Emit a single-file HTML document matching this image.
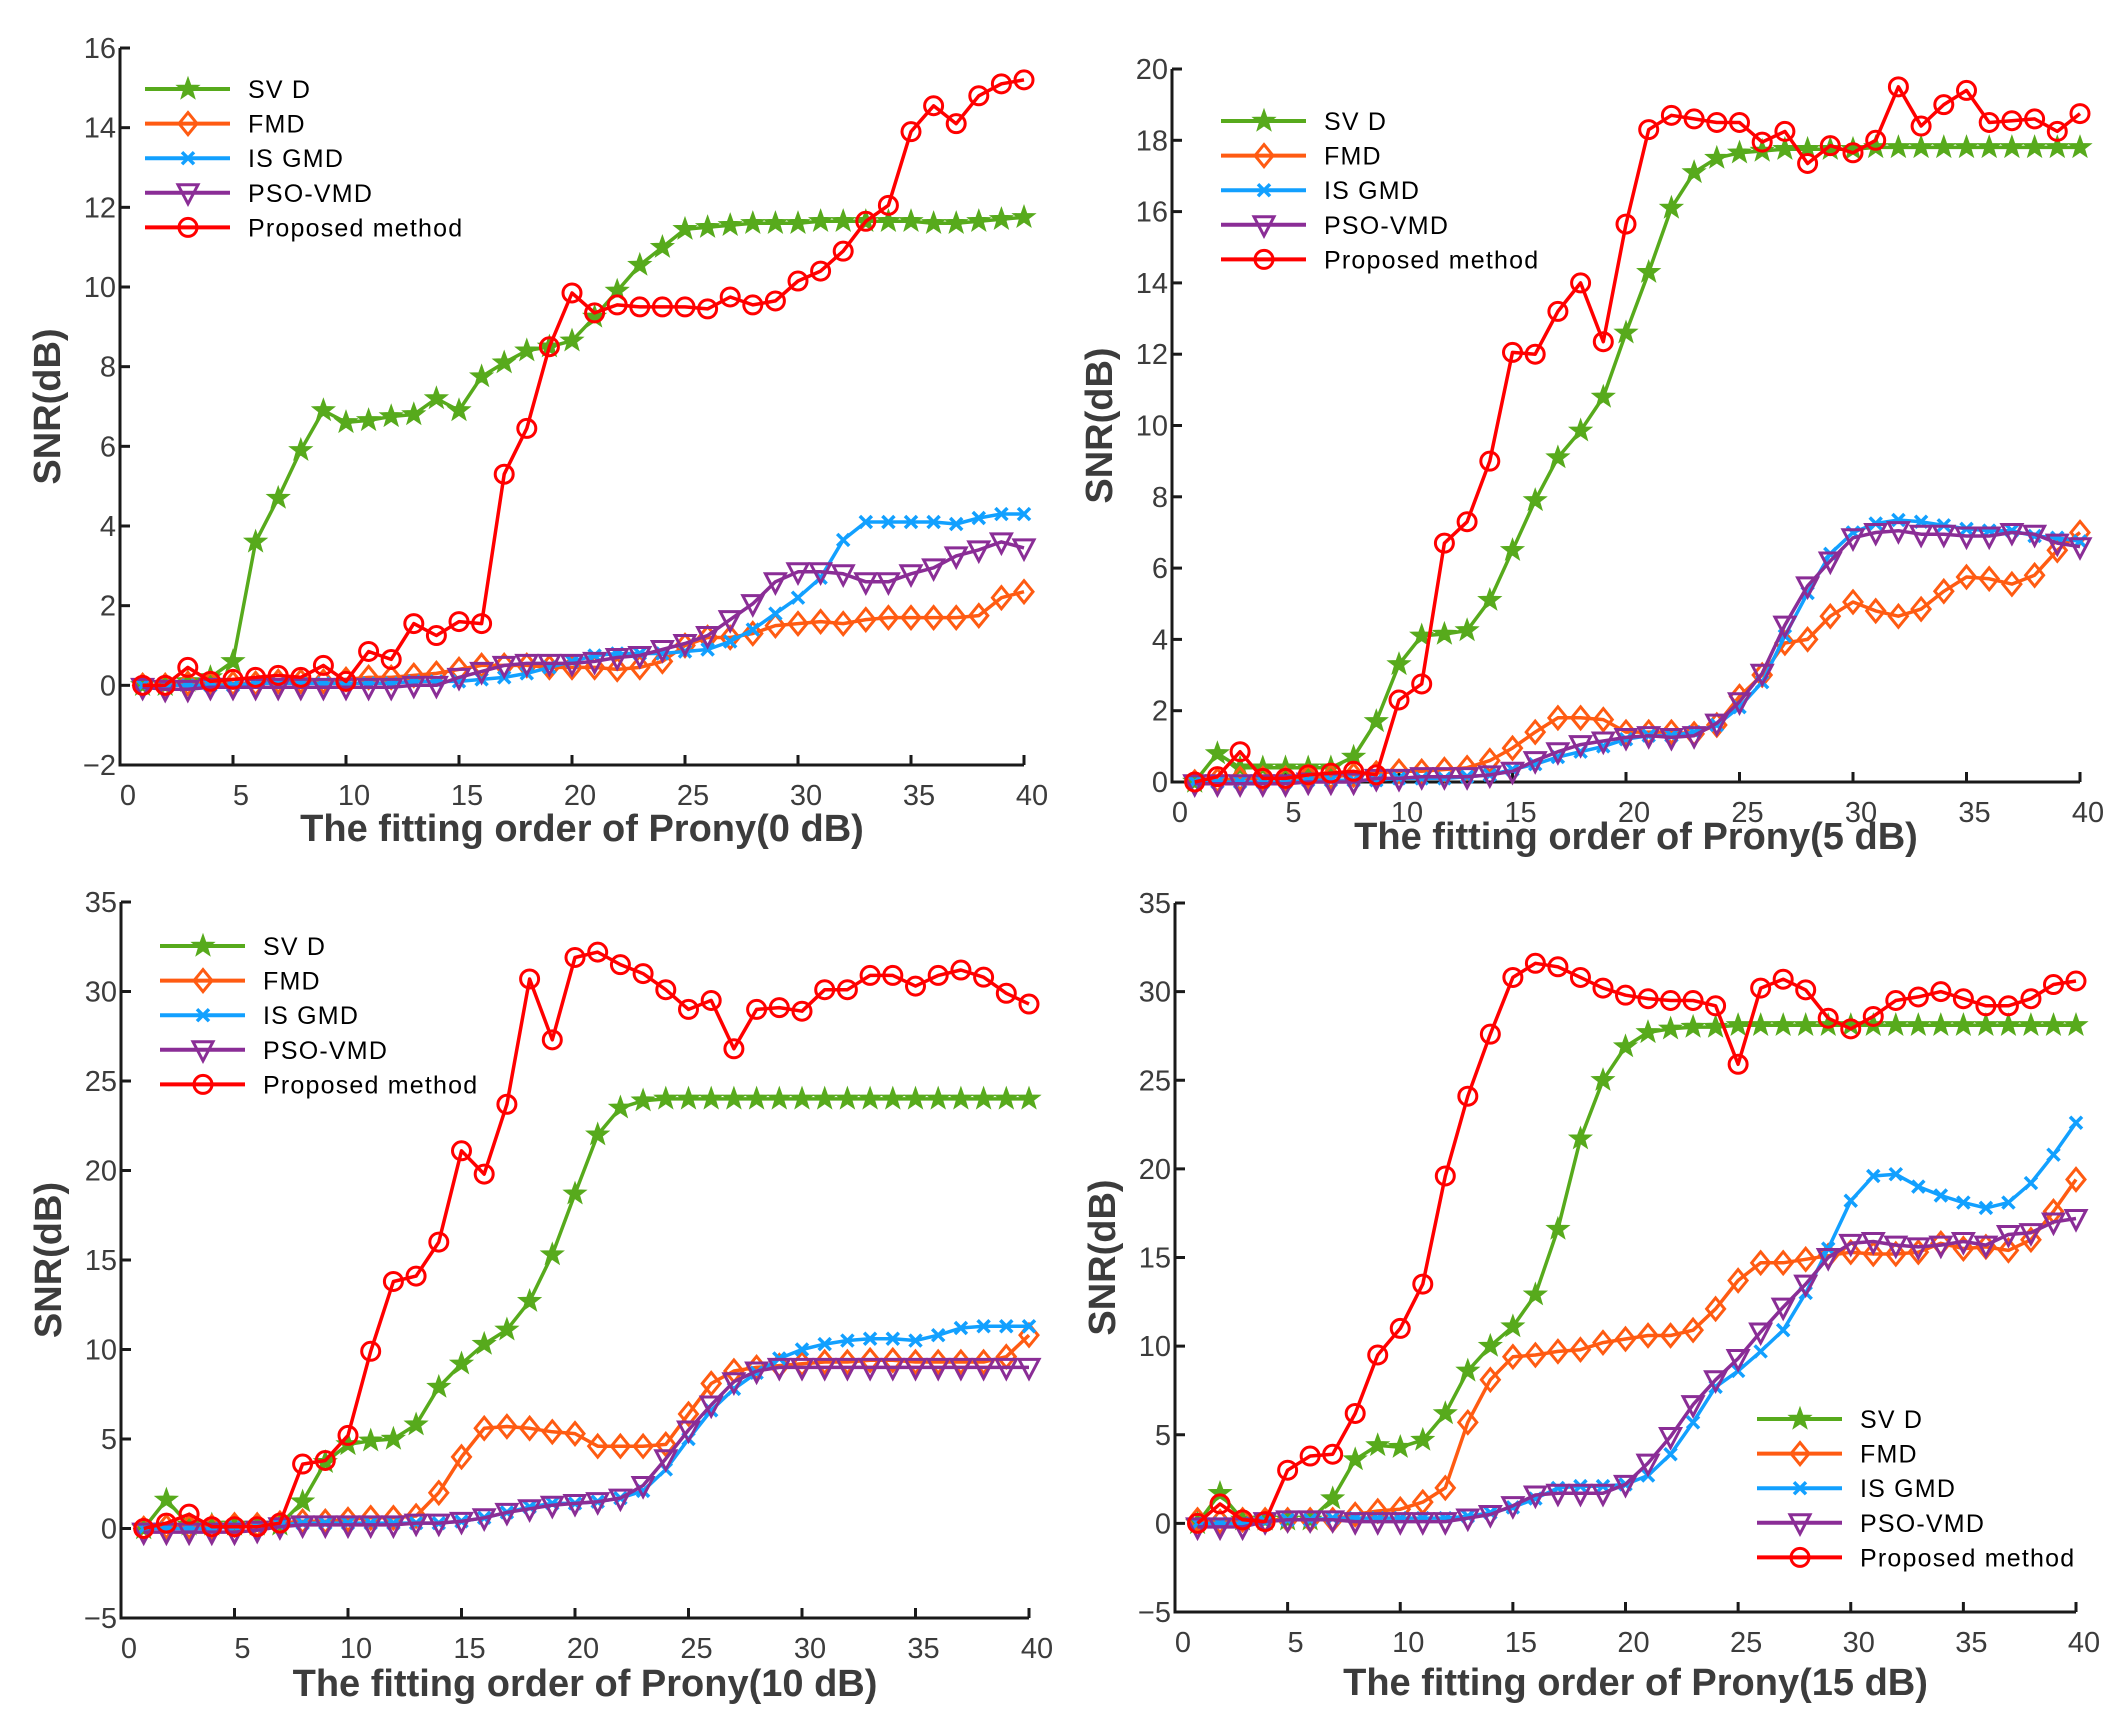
<!DOCTYPE html>
<html><head><meta charset="utf-8">
<style>
html,body{margin:0;padding:0;background:#fff;}
svg{display:block;}
text{font-family:"Liberation Sans",sans-serif;}
</style></head>
<body>
<svg id="fig" width="2121" height="1729" viewBox="0 0 2121 1729" xmlns="http://www.w3.org/2000/svg"></svg>
<script>
const xs = Array.from({length:40},(_, i)=>i+1);
const seriesNames = ["SVD","FMD","ISGMD","PSO-VMD","Proposed method"];
const legendLabels = ["SV D","FMD","IS GMD","PSO-VMD"," Proposed method"];
const xTicks = [0,5,10,15,20,25,30,35,40];

// Panel 1 (0 dB)
const p1_svd = [0,0,0.1,0.2,0.6,3.6,4.7,5.9,6.9,6.6,6.65,6.75,6.8,7.2,6.9,7.75,8.1,8.4,8.5,8.65,9.25,9.9,10.55,11.0,11.45,11.5,11.55,11.6,11.6,11.6,11.65,11.65,11.65,11.65,11.65,11.6,11.6,11.65,11.7,11.75];
const p1_fmd = [0,0,0.05,0.05,0.05,0.05,0.1,0.1,0.1,0.15,0.2,0.2,0.25,0.3,0.4,0.5,0.5,0.5,0.45,0.45,0.45,0.4,0.45,0.6,1.0,1.2,1.2,1.3,1.5,1.55,1.6,1.55,1.65,1.7,1.7,1.7,1.7,1.75,2.2,2.35];
const p1_isg = [0,0,0,0,0,0.05,0.05,0.05,0.05,0.05,0.05,0.05,0.1,0.1,0.1,0.15,0.2,0.3,0.45,0.6,0.75,0.8,0.8,0.8,0.85,0.9,1.1,1.4,1.8,2.2,2.7,3.65,4.1,4.1,4.1,4.1,4.05,4.2,4.3,4.3];
const p1_pso = [-0.05,-0.1,-0.1,-0.05,-0.05,-0.05,-0.05,-0.05,-0.05,-0.05,-0.05,-0.05,0,0,0.2,0.35,0.5,0.55,0.55,0.55,0.6,0.7,0.75,0.9,1.05,1.25,1.65,2.05,2.6,2.85,2.85,2.8,2.6,2.6,2.8,2.95,3.25,3.4,3.6,3.45];
const p1_prop = [0,0,0.45,0.1,0.15,0.2,0.25,0.2,0.5,0.1,0.85,0.65,1.55,1.25,1.6,1.55,5.3,6.45,8.5,9.85,9.35,9.55,9.5,9.5,9.5,9.45,9.75,9.55,9.65,10.15,10.4,10.9,11.65,12.05,13.9,14.55,14.1,14.8,15.1,15.2];
const p1_yTicks = [-2,0,2,4,6,8,10,12,14,16];

// Panel 2 (5 dB)
const p2_svd = [0,0.8,0.4,0.4,0.4,0.4,0.4,0.7,1.7,3.3,4.1,4.15,4.25,5.1,6.5,7.9,9.1,9.85,10.8,12.6,14.3,16.1,17.1,17.5,17.65,17.7,17.75,17.75,17.75,17.75,17.8,17.8,17.8,17.8,17.8,17.8,17.8,17.8,17.8,17.8];
const p2_fmd = [0,0.05,0.1,0.1,0.1,0.15,0.15,0.2,0.25,0.3,0.3,0.35,0.4,0.6,0.95,1.4,1.8,1.8,1.75,1.4,1.4,1.4,1.35,1.6,2.4,3.0,3.9,4.0,4.65,5.05,4.8,4.65,4.85,5.35,5.75,5.7,5.55,5.8,6.5,7.0];
const p2_isg = [0,0,0,0,0,0.05,0.05,0.05,0.05,0.1,0.1,0.1,0.15,0.2,0.35,0.5,0.7,0.85,1.0,1.2,1.3,1.3,1.4,1.6,2.1,2.8,4.1,5.3,6.4,7.0,7.25,7.35,7.3,7.2,7.1,7.05,7.05,6.9,6.85,6.75];
const p2_pso = [-0.05,-0.05,-0.05,-0.05,-0.05,0,0,0,0.1,0.1,0.15,0.15,0.15,0.2,0.3,0.6,0.85,1.05,1.15,1.25,1.3,1.25,1.3,1.65,2.25,3.05,4.4,5.5,6.2,6.85,7.0,7.05,6.95,6.95,6.9,6.9,7.0,6.95,6.7,6.6];
const p2_prop = [0,0.15,0.85,0.1,0.1,0.2,0.25,0.3,0.2,2.3,2.75,6.7,7.3,9.0,12.05,12.0,13.2,14.0,12.35,15.65,18.3,18.7,18.6,18.5,18.5,17.95,18.25,17.35,17.85,17.65,18.0,19.5,18.4,19.0,19.4,18.5,18.55,18.6,18.25,18.75];
const p2_yTicks = [0,2,4,6,8,10,12,14,16,18,20];

// Panel 3 (10 dB)
const p3_svd = [0,1.6,0.2,0.2,0.2,0.2,0.2,1.5,3.7,4.7,4.9,5.0,5.8,7.9,9.2,10.3,11.1,12.7,15.3,18.7,22.0,23.5,23.9,24,24,24,24,24,24,24,24,24,24,24,24,24,24,24,24,24];
const p3_fmd = [0,0.1,0.1,0.1,0.2,0.2,0.3,0.4,0.4,0.5,0.6,0.6,0.7,2.0,4.0,5.6,5.7,5.6,5.4,5.3,4.6,4.6,4.6,4.7,6.4,8.1,8.8,9.0,9.1,9.2,9.3,9.3,9.4,9.4,9.3,9.3,9.3,9.3,9.6,10.8];
const p3_isg = [0,0,0,0,0.1,0.1,0.2,0.3,0.3,0.3,0.3,0.3,0.3,0.3,0.4,0.6,0.9,1.2,1.4,1.4,1.5,1.7,2.1,3.3,5.0,6.6,7.8,8.7,9.5,10.0,10.3,10.5,10.6,10.6,10.5,10.8,11.2,11.3,11.3,11.3];
const p3_pso = [-0.2,-0.2,-0.2,-0.2,-0.2,-0.1,0.1,0.2,0.2,0.2,0.2,0.2,0.3,0.3,0.4,0.6,0.9,1.1,1.3,1.4,1.5,1.7,2.4,3.9,5.5,6.9,8.2,8.8,9.0,9.0,9.0,9.0,9.0,9.0,9.0,9.0,9.0,9.0,9.0,9.0];
const p3_prop = [0,0.3,0.8,0.1,0.1,0.1,0.3,3.6,3.8,5.2,9.9,13.8,14.1,16.0,21.1,19.8,23.7,30.7,27.3,31.9,32.2,31.5,31.0,30.1,29.0,29.5,26.8,29.0,29.1,28.9,30.1,30.1,30.9,30.9,30.3,30.9,31.2,30.8,29.9,29.3];
const p3_yTicks = [-5,0,5,10,15,20,25,30,35];

// Panel 4 (15 dB)
const p4_svd = [0,1.7,0.2,0.2,0.2,0.2,1.4,3.6,4.4,4.3,4.7,6.2,8.6,10.0,11.1,12.9,16.6,21.7,25.0,26.9,27.7,27.9,28.0,28.0,28.1,28.1,28.1,28.1,28.1,28.1,28.1,28.1,28.1,28.1,28.1,28.1,28.1,28.1,28.1,28.1];
const p4_fmd = [0.2,0.1,0.2,0.2,0.2,0.2,0.2,0.5,0.7,0.8,1.2,2.0,5.7,8.1,9.4,9.5,9.7,9.8,10.2,10.4,10.6,10.6,10.9,12.1,13.7,14.7,14.7,14.9,15.1,15.3,15.2,15.2,15.3,15.8,15.5,15.6,15.4,16.0,17.6,19.4];
const p4_isg = [0,0,0,0.1,0.2,0.2,0.3,0.3,0.3,0.3,0.3,0.3,0.4,0.6,0.9,1.4,2.0,2.1,2.1,2.2,2.7,3.9,5.7,7.7,8.6,9.7,10.9,13.0,15.5,18.2,19.6,19.7,19.0,18.5,18.1,17.8,18.1,19.2,20.8,22.6];
const p4_pso = [-0.2,-0.2,-0.2,0.1,0.2,0.2,0.2,0.1,0.1,0.1,0.1,0.1,0.3,0.5,1.0,1.6,1.7,1.7,1.7,2.2,3.4,4.9,6.7,8.1,9.3,10.8,12.2,13.5,15.0,15.8,15.9,15.7,15.6,15.7,15.9,15.7,16.3,16.4,17.0,17.2];
const p4_prop = [0,1.1,0.2,0.1,3.0,3.8,3.9,6.2,9.5,11.0,13.5,19.6,24.1,27.6,30.8,31.6,31.4,30.8,30.2,29.8,29.6,29.5,29.5,29.2,25.9,30.2,30.7,30.1,28.5,27.9,28.6,29.5,29.7,30.0,29.6,29.2,29.2,29.6,30.4,30.6];
const p4_yTicks = [-5,0,5,10,15,20,25,30,35];

const colors = ["#57aa1c","#ff5b12","#12a0ff","#8a2d96","#ff0000"];
const markers = ["star","diamond","x","tri","circle"];
const NS = "http://www.w3.org/2000/svg";
const svg = document.getElementById("fig");
function mk(tag, attrs, parent){
  const e = document.createElementNS(NS, tag);
  for (const k in attrs) e.setAttribute(k, attrs[k]);
  (parent||svg).appendChild(e);
  return e;
}
function marker(g, type, cx, cy, col){
  let e;
  if (type==="circle"){
    e = mk("circle",{cx:cx,cy:cy,r:9,fill:"none",stroke:col,"stroke-width":3},g);
  } else if (type==="diamond"){
    e = mk("polygon",{points:`${cx},${cy-11} ${cx+9},${cy} ${cx},${cy+11} ${cx-9},${cy}`,fill:"none",stroke:col,"stroke-width":3},g);
  } else if (type==="tri"){
    e = mk("polygon",{points:`${cx-10},${cy-8} ${cx+10},${cy-8} ${cx},${cy+11}`,fill:"none",stroke:col,"stroke-width":3},g);
  } else if (type==="x"){
    e = mk("path",{d:`M${cx-6},${cy-6}L${cx+6},${cy+6}M${cx+6},${cy-6}L${cx-6},${cy+6}`,stroke:col,"stroke-width":3.5,fill:"none"},g);
  } else {
    let p=[];
    for(let i=0;i<10;i++){const r=i%2?4.5:11;const a=-Math.PI/2+i*Math.PI/5;p.push((cx+r*Math.cos(a)).toFixed(1)+","+(cy+r*Math.sin(a)).toFixed(1));}
    e = mk("polygon",{points:p.join(" "),fill:col,stroke:col,"stroke-width":1.5},g);
  }
  return e;
}
function panel(id, box, yTicks, data, title, leg, titleDy){
  const g = mk("g",{});
  
  
  const ymin=yTicks[0], ymax=yTicks[yTicks.length-1];
  const X = v => box.x0 + (v-0)/40*(box.x1-box.x0);
  const Y = v => box.yb + (v-ymin)/(ymax-ymin)*(box.yt-box.yb);
  const ax = mk("path",{d:`M${box.x0},${box.yt}L${box.x0},${box.yb}L${box.x1},${box.yb}`,fill:"none",stroke:"#1a1a1a","stroke-width":3},g);
  
  
  yTicks.forEach(t=>{
    mk("line",{x1:box.x0,x2:box.x0+10,y1:Y(t),y2:Y(t),stroke:"#1a1a1a","stroke-width":3},g);
    const tx = mk("text",{x:box.x0-4,y:Y(t)+10,"text-anchor":"end","font-size":29,fill:"#3c3c3c"},g);
    tx.textContent = t<0 ? "\u2212"+Math.abs(t) : String(t);
    
    
  });
  xTicks.forEach(t=>{
    mk("line",{x1:X(t),x2:X(t),y1:box.yb,y2:box.yb-10,stroke:"#1a1a1a","stroke-width":3},g);
    const tx = mk("text",{x:X(t)+8,y:box.yb+40,"text-anchor":"middle","font-size":29,fill:"#3c3c3c"},g);
    tx.textContent = String(t);
    
    
  });
  const xt = mk("text",{x:(box.x0+box.x1)/2+10,y:box.yb+80+titleDy,"text-anchor":"middle","font-size":38,"font-weight":"bold",fill:"#3c3c3c"},g);
  xt.textContent = title;
  
  
  const ycx = box.x0-60, ycy=(box.yt+box.yb)/2;
  const yt = mk("text",{x:ycx,y:ycy,"text-anchor":"middle","font-size":38,"font-weight":"bold",fill:"#3c3c3c",transform:`rotate(-90 ${ycx} ${ycy})`},g);
  yt.textContent = "SNR(dB)";
  
  
  data.forEach((vals,si)=>{
    const sg = mk("g",{},g);
    
    
    const pts = vals.map((v,i)=>X(xs[i]).toFixed(1)+","+Y(v).toFixed(1)).join(" ");
    mk("polyline",{points:pts,fill:"none",stroke:colors[si],"stroke-width":3.5,"stroke-linejoin":"round"},sg);
    vals.forEach((v,i)=>{ marker(sg, markers[si], X(xs[i]), Y(v), colors[si]); });
  });
  const lg = mk("g",{},g);
  
  
  seriesNames.forEach((n,si)=>{
    const ry = leg.y + si*34.6;
    const eg = mk("g",{},lg);
    
    
    mk("line",{x1:leg.x,x2:leg.x+85,y1:ry,y2:ry,stroke:colors[si],"stroke-width":4},eg);
    marker(eg, markers[si], leg.x+43, ry, colors[si]);
    const t = mk("text",{x:leg.x+103,y:ry+9,"font-size":25,"letter-spacing":"1.2",fill:"#000"},eg);
    t.textContent = legendLabels[si];
  });
}
panel("panel-0db",{x0:120,x1:1024,yt:48,yb:765},p1_yTicks,[p1_svd,p1_fmd,p1_isg,p1_pso,p1_prop],"The fitting order of Prony(0 dB)",{x:145,y:89},-4);
panel("panel-5db",{x0:1172,x1:2080,yt:69,yb:782},p2_yTicks,[p2_svd,p2_fmd,p2_isg,p2_pso,p2_prop],"The fitting order of Prony(5 dB)",{x:1221,y:121},-13);
panel("panel-10db",{x0:121,x1:1029,yt:902,yb:1618},p3_yTicks,[p3_svd,p3_fmd,p3_isg,p3_pso,p3_prop],"The fitting order of Prony(10 dB)",{x:160,y:946},-2);
panel("panel-15db",{x0:1175,x1:2076,yt:903,yb:1612},p4_yTicks,[p4_svd,p4_fmd,p4_isg,p4_pso,p4_prop],"The fitting order of Prony(15 dB)",{x:1757,y:1419},3);
</script>
</body></html>
